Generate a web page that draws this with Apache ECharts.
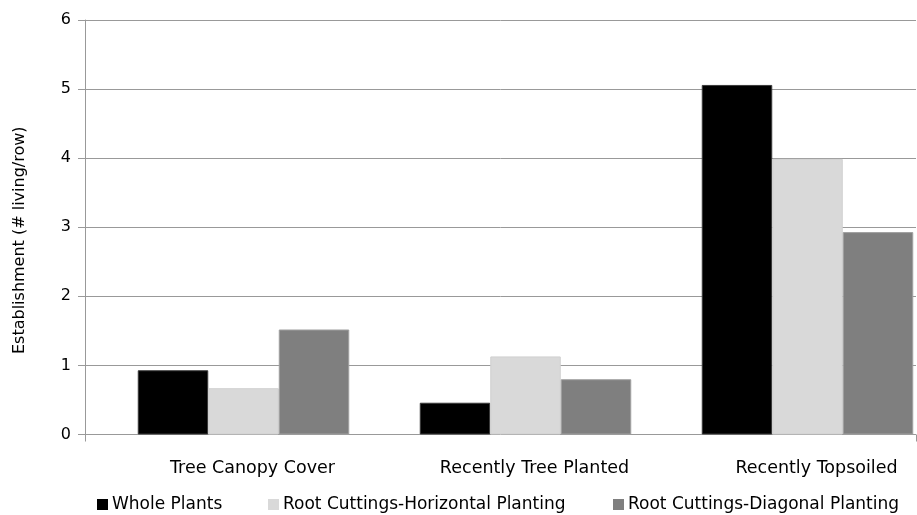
<!DOCTYPE html>
<html>
<head>
<meta charset="utf-8">
<script src="https://cdn.jsdelivr.net/npm/echarts@6/dist/echarts.min.js"></script>
<style>html,body{margin:0;padding:0;background:#fff}#c{width:917px;height:515px}</style>
</head>
<body>
<div id="c"></div>
<script>
const categories = ['Tree Canopy Cover', 'Recently Tree Planted', 'Recently Topsoiled'];
const seriesNames = ['Whole Plants', 'Root Cuttings-Horizontal Planting', 'Root Cuttings-Diagonal Planting'];
const wholePlants = [0.93, 0.46, 5.06];
const rootHorizontal = [0.67, 1.13, 3.99];
const rootDiagonal = [1.52, 0.80, 2.93];
const yTicks = [0, 1, 2, 3, 4, 5, 6];

const FONT = '"DejaVu Sans", sans-serif';
const colors = ['#000000', '#d9d9d9', '#7f7f7f'];
const borders = ['#3a3a3a', '#d0d0d0', '#a0a0a0'];
const values = [wholePlants, rootHorizontal, rootDiagonal];

const chart = echarts.init(document.getElementById('c'), null, {renderer: 'canvas'});
const legendLefts = [97, 268, 613];
chart.setOption({
  animation: false,
  backgroundColor: '#ffffff',
  grid: [
    {left: 85, right: 1, top: 20, bottom: 80.5, outerBoundsMode: 'none'},
    {left: 102.5, width: 846, top: 20, bottom: 80.5, outerBoundsMode: 'none', containLabel: false}
  ],
  legend: seriesNames.map((n, i) => ({
    data: [n],
    left: legendLefts[i],
    top: 496,
    itemWidth: 11,
    itemHeight: 11,
    itemGap: 5,
    icon: 'rect',
    itemStyle: {borderWidth: 0},
    textStyle: {fontFamily: FONT, fontSize: 17, color: '#000', padding: [0, 0, 0, -1]},
    padding: 0
  })),
  xAxis: [
    {
      type: 'category', gridIndex: 0, data: [''],
      axisLine: {show: false},
      axisTick: {show: true, length: 7, lineStyle: {color: '#999'}},
      axisLabel: {show: false}
    },
    {
      type: 'category', gridIndex: 1, data: categories,
      axisLine: {show: false}, axisTick: {show: false},
      axisLabel: {fontFamily: FONT, fontSize: 17.5, color: '#000', margin: 25, interval: 0, padding: [0, 0, 0, 18]}
    }
  ],
  yAxis: [
    {
      type: 'value', gridIndex: 0, min: yTicks[0], max: yTicks[yTicks.length - 1], interval: 1,
      name: 'Establishment (# living/row)', nameLocation: 'middle', nameGap: 57, nameRotate: 90,
      nameTextStyle: {fontFamily: FONT, fontSize: 16, color: '#000', padding: [0, 26, 0, 0]},
      axisLine: {show: true, lineStyle: {color: '#999', width: 1}},
      axisTick: {show: true, length: 7, lineStyle: {color: '#999'}},
      axisLabel: {fontFamily: FONT, fontSize: 16, color: '#000', margin: 14},
      splitLine: {show: true, lineStyle: {color: '#999', width: 1}}
    },
    {
      type: 'value', gridIndex: 1, min: 0, max: 6, interval: 1, show: false,
      splitLine: {show: false}
    }
  ],
  series: seriesNames.map((n, i) => ({
    name: n,
    type: 'bar',
    xAxisIndex: 1,
    yAxisIndex: 1,
    data: values[i],
    barGap: '0%',
    barCategoryGap: '25%',
    itemStyle: {color: colors[i], borderColor: borders[i], borderWidth: 1},
    emphasis: {disabled: true}
  }))
});
</script>
</body>
</html>
